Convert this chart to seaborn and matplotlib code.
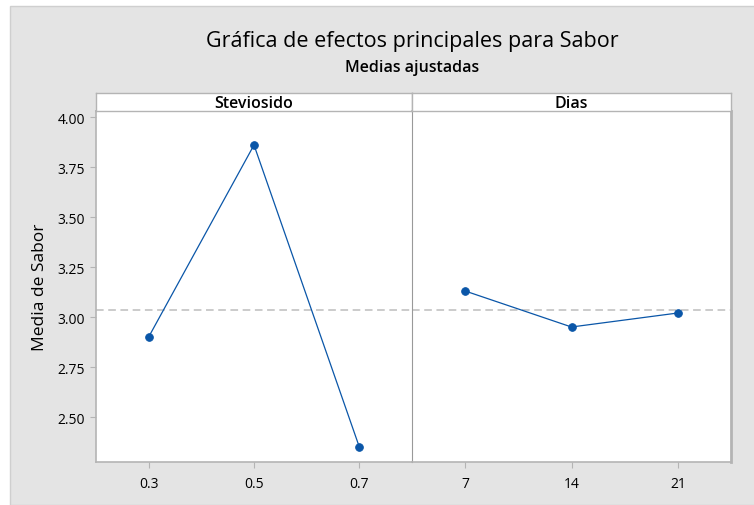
import matplotlib
matplotlib.use("Agg")
import matplotlib.pyplot as plt
import pandas as pd
import seaborn as sns
from matplotlib.patches import Rectangle

sns.set_style("white")
plt.rcParams['font.family'] = ['Open Sans', 'DejaVu Sans']
plt.rcParams['text.color'] = 'black'
plt.rcParams['axes.labelcolor'] = 'black'
plt.rcParams['xtick.labelcolor'] = 'black'
plt.rcParams['ytick.labelcolor'] = 'black'

# Fitted means
steviosido_levels = ["0.3", "0.5", "0.7"]
steviosido_means = [2.90, 3.86, 2.35]
dias_levels = ["7", "14", "21"]
dias_means = [3.13, 2.95, 3.02]
grand_mean = 3.035
y_ticks = [2.50, 2.75, 3.00, 3.25, 3.50, 3.75, 4.00]

panels = [
    ("Steviosido", pd.DataFrame({"nivel": steviosido_levels, "media": steviosido_means})),
    ("Dias", pd.DataFrame({"nivel": dias_levels, "media": dias_means})),
]

bg = '#e4e4e4'
frame = '#b4b4b4'
blue = '#0a56a8'

fig = plt.figure(figsize=(7.54, 5.06), dpi=100, facecolor='white')
# gray panel behind everything
fig.patches.append(Rectangle((10 / 754, 0), 1, 1 - 7 / 506, transform=fig.transFigure,
                             facecolor=bg, edgecolor='#cfcfcf', lw=1, zorder=-10))

left, mid, right = 96 / 754, 412 / 754, 731 / 754
bottom, top, strip_top = 1 - 463 / 506, 1 - 112 / 506, 1 - 94 / 506

for i, (name, df) in enumerate(panels):
    x0 = left if i == 0 else mid
    x1 = mid if i == 0 else right
    ax = fig.add_axes([x0, bottom, x1 - x0, top - bottom])
    sns.pointplot(data=df, x="nivel", y="media", ax=ax, color=blue, errorbar=None,
                  markers='o', markersize=5.5, linewidth=0.9)
    ax.axhline(grand_mean, color='#bdbdbd', ls=(0, (5, 3)), lw=1.1, zorder=0)
    ax.set_xlim(-0.5, 2.5)
    ax.set_ylim(2.275, 4.03)
    ax.set_xlabel("")
    ax.set_ylabel("")
    ax.set_facecolor('white')
    for s in ax.spines.values():
        s.set_color(frame)
        s.set_linewidth(1.2)
    ax.tick_params(axis='x', length=4, width=0.8, color=frame, labelsize=10, pad=6, bottom=True)
    ax.set_yticks(y_ticks)
    if i == 0:
        ax.set_yticklabels([f"{v:.2f}" for v in y_ticks])
        ax.tick_params(axis='y', length=4, width=0.8, color=frame, labelsize=10, pad=4, left=True)
        ax.spines['right'].set_visible(False)
        ax.set_ylabel("Media de Sabor", fontsize=12.5, labelpad=7, fontweight='medium')
    else:
        ax.tick_params(axis='y', left=False, labelleft=False)
        ax.spines['left'].set_color('#999999')
        ax.spines['left'].set_linewidth(0.8)
        ax.spines['right'].set_linewidth(2)
    # strip header
    sax = fig.add_axes([x0, top, x1 - x0, strip_top - top])
    sax.set_xticks([])
    sax.set_yticks([])
    sax.set_facecolor('white')
    for s in sax.spines.values():
        s.set_color(frame)
        s.set_linewidth(1.0)
    sax.text(0.5, 0.45, name, ha='center', va='center', fontsize=11.5, fontweight='semibold',
             transform=sax.transAxes)

fig.text(412 / 754, 1 - 42 / 506, "Gráfica de efectos principales para Sabor",
         ha='center', va='center', fontsize=15.5, fontweight='medium')
fig.text(412 / 754, 1 - 68 / 506, "Medias ajustadas", ha='center', va='center',
         fontsize=11.5, fontweight='semibold')

fig.savefig("out.png", dpi=100, facecolor=fig.get_facecolor())
